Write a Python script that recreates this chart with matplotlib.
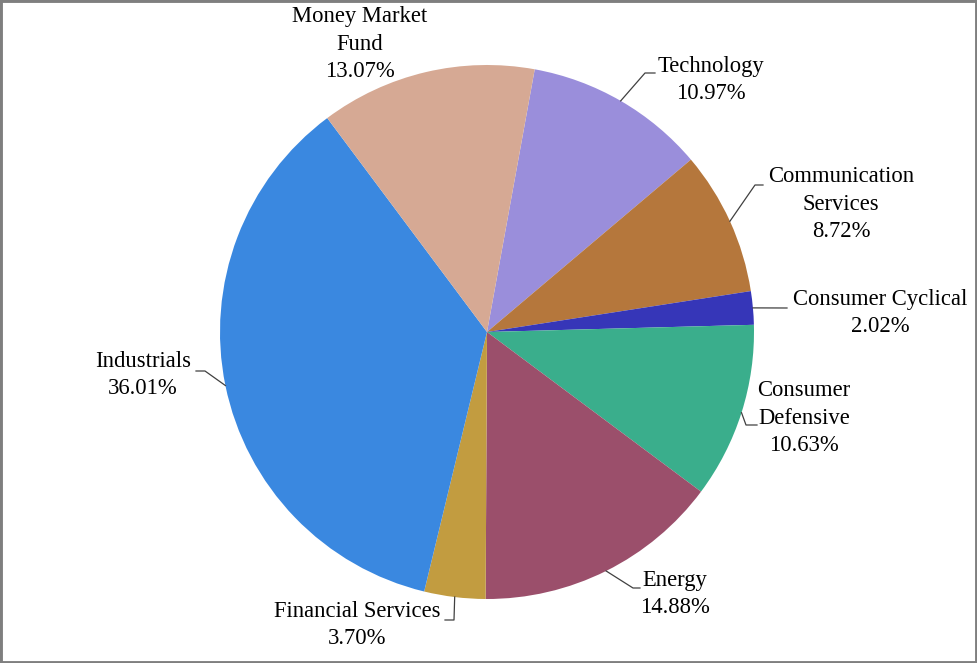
import numpy as np
import matplotlib
matplotlib.use("Agg")
import matplotlib.pyplot as plt
from matplotlib.patches import Rectangle

plt.rcParams['font.family'] = ['Liberation Serif', 'DejaVu Serif']

# slices, clockwise from the top
sectors = ['Technology', 'Communication\nServices', 'Consumer Cyclical', 'Consumer\nDefensive',
           'Energy', 'Financial Services', 'Industrials', 'Money Market\nFund']
shares = [10.97, 8.72, 2.02, 10.63, 14.88, 3.70, 36.01, 13.07]
colors = ['#9a8edb', '#b5773c', '#3636b8', '#3aae8c', '#9b4f6b', '#c29c40', '#3a88e0', '#d6a994']

W, H = 977, 663
fig = plt.figure(figsize=(W / 100, H / 100), dpi=100)
ax = fig.add_axes([0, 0, 1, 1])

cx, cy, r = 487, H - 332, 267
start = 79.7
wedges, _ = ax.pie(shares, colors=colors, startangle=start, counterclock=False,
                   center=(cx, cy), radius=r, frame=True,
                   wedgeprops=dict(linewidth=0))
ax.set_xlim(0, W)
ax.set_ylim(0, H)
ax.axis('off')

# label text centre, elbow and end of the leader line (pixels from top-left)
label_pos = [(711, 80), (841, 204), (880, 313), (804, 418), (675, 594), (357, 625), (143, 375), (360, 44)]
elbows = [[(645, 73), (655, 73)], [(755, 185), (763, 185)], [(787, 308)], [(746, 425), (757, 425)],
          [(633, 588), (640, 588)], [(454, 620), (445, 620)], [(205, 371), (196, 371)], None]

for w, name, val, (tx, ty), el in zip(wedges, sectors, shares, label_pos, elbows):
    mid = np.deg2rad((w.theta1 + w.theta2) / 2)
    px, py = cx + r * np.cos(mid), cy + r * np.sin(mid)
    if el is not None:
        xs = [px] + [e[0] for e in el]
        ys = [py] + [H - e[1] for e in el]
        ax.plot(xs, ys, color='#404040', lw=0.9)
    ax.text(tx, H - ty, f'{name}\n{val:.2f}%', ha='center', va='center',
            fontsize=16.3, linespacing=1.42, color='black')

fig.patches.append(Rectangle((0, 0), 1, 1, transform=fig.transFigure, fill=False,
                             edgecolor='#7f7f7f', lw=3.5))
fig.savefig('out.png', dpi=100, facecolor='white')
